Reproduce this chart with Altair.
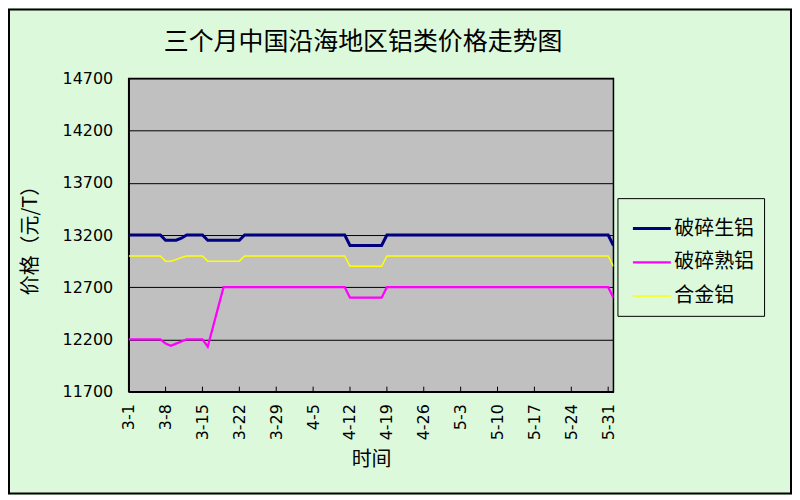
import altair as alt
import pandas as pd

YEAR = 2011
FONT = "DejaVu Sans, Noto Sans CJK SC"
CJK = "Noto Sans CJK SC"

title_text = "三个月中国沿海地区铝类价格走势图"
series_names = ["破碎生铝", "破碎熟铝", "合金铝"]
series_colors = ["#000080", "#ff00ff", "#ffff00"]
series_widths = [3, 1.5, 2]

dates = ["3-1", "3-7", "3-8", "3-9", "3-10", "3-11", "3-12", "3-15", "3-16",
         "3-19", "3-22", "3-23", "4-11", "4-12", "4-18", "4-19", "5-31", "6-1"]
raw_al = [13200, 13200, 13150, 13150, 13150, 13170, 13200, 13200, 13150,
          13150, 13150, 13200, 13200, 13100, 13100, 13200, 13200, 13100]
wrought_al = [12200, 12200, 12160, 12140, 12160, 12180, 12200, 12200, 12130,
              12700, 12700, 12700, 12700, 12600, 12600, 12700, 12700, 12600]
alloy_al = [13000, 13000, 12950, 12950, 12965, 12985, 13000, 13000, 12950,
            12950, 12950, 13000, 13000, 12900, 12900, 13000, 13000, 12900]

tick_labels = ["3-1", "3-8", "3-15", "3-22", "3-29", "4-5", "4-12", "4-19",
               "4-26", "5-3", "5-10", "5-17", "5-24", "5-31"]
y_ticks = [11700, 12200, 12700, 13200, 13700, 14200, 14700]


def iso(md):
    m, d = md.split("-")
    return f"{YEAR}-{int(m):02d}-{int(d):02d}"


def dt(md):
    m, d = md.split("-")
    return alt.DateTime(year=YEAR, month=int(m), date=int(d), utc=True)


rows = []
for name, vals in zip(series_names, [raw_al, wrought_al, alloy_al]):
    for d, v in zip(dates, vals):
        rows.append({"date": iso(d), "value": v, "series": name})
df = pd.DataFrame(rows)
tick_df = pd.DataFrame({"date": [iso(t) for t in tick_labels]})

W, H = 486, 314

x_axis = alt.Axis(
    values=[dt(t) for t in tick_labels],
    labelExpr="utcFormat(datum.value, '%-m-%-d')",
    labelAngle=270,
    labelOverlap=False,
    labelFontSize=16,
    labelFont=FONT,
    labelColor="black",
    labelPadding=12,
    tickSize=0,
    grid=False,
    domainColor="black",
    domainWidth=1.5,
    title="时间",
    titleFont=CJK,
    titleFontSize=20,
    titleFontWeight="normal",
    titleColor="black",
    titlePadding=10,
)
x_scale = alt.Scale(type="utc", domain=[dt("3-1"), dt("6-1")])

y_enc = alt.Y(
    "value:Q",
    scale=alt.Scale(domain=[11700, 14700], nice=False, zero=False),
    axis=alt.Axis(
        values=y_ticks,
        format="d",
        labelOverlap=False,
        labelFontSize=16,
        labelFont=FONT,
        labelColor="black",
        labelPadding=16,
        tickSize=0,
        grid=True,
        gridColor="black",
        gridWidth=1,
        domainColor="black",
        domainWidth=1.5,
        title="价格（元/T）",
        titleFont=CJK,
        titleFontSize=20,
        titleFontWeight="normal",
        titleColor="black",
        titlePadding=22,
    ),
)

frame = alt.Chart(alt.Data(values=[{}])).mark_rect(
    fillOpacity=0, stroke="black", strokeWidth=2
).encode(
    x=alt.value(-120), x2=alt.value(664), y=alt.value(-69), y2=alt.value(416)
)

lines = alt.Chart(df).mark_line(clip=True).encode(
    x=alt.X("date:T", scale=x_scale, axis=x_axis),
    y=y_enc,
    color=alt.Color("series:N", scale=alt.Scale(domain=series_names, range=series_colors),
                    legend=alt.Legend(title=None)),
    strokeWidth=alt.StrokeWidth("series:N", scale=alt.Scale(domain=series_names, range=series_widths),
                                legend=alt.Legend(title=None)),
)

ticks = alt.Chart(tick_df).mark_rule(color="black", strokeWidth=1).encode(
    x=alt.X("date:T", scale=x_scale, axis=x_axis), y=alt.value(H), y2=alt.value(H - 5)
)

chart = alt.layer(frame, lines, ticks).properties(
    width=W,
    height=H,
    padding={"left": 121, "top": 70, "right": 179, "bottom": 103},
    autosize=alt.AutoSizeParams(type="none"),
    background="#dcf9dc",
    title=alt.Title(title_text, font=CJK, fontSize=25, fontWeight="normal",
                    color="black", anchor="middle", frame="group", offset=0, dy=46, dx=-8),
).configure_view(
    fill="#c0c0c0", stroke="black", strokeWidth=1.5
).configure_legend(
    orient="none",
    legendX=490,
    legendY=120,
    fillColor="#dcf9dc",
    strokeColor="black",
    padding=10,
    labelFont=CJK,
    labelFontSize=20,
    labelColor="black",
    labelOffset=2,
    symbolOffset=4,
    symbolType="stroke",
    symbolSize=1444,
    rowPadding=3,
    labelLimit=200,
)

chart.save("out.html", embed_options={"renderer": "svg", "actions": False})
